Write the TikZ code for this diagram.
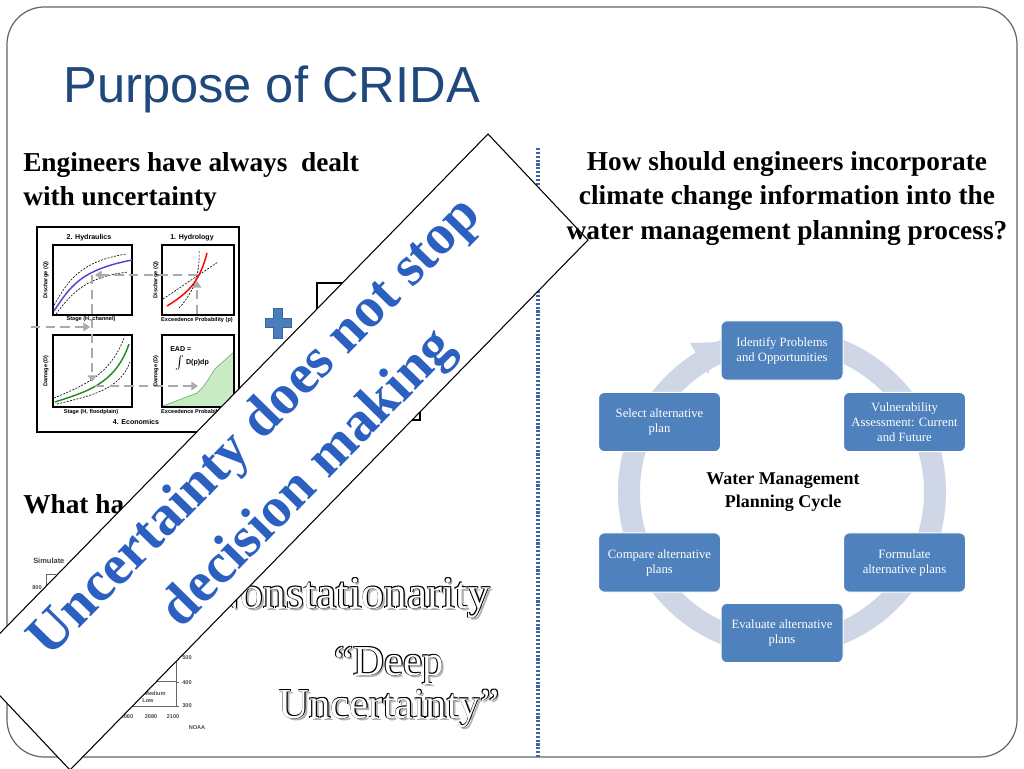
\documentclass[tikz,border=0pt]{standalone}
\usepackage{fontspec}
\setmainfont{Liberation Serif}
\newfontfamily\arialf{Liberation Sans}
\usetikzlibrary{arrows.meta}
\definecolor{titleblue}{RGB}{31,73,125}
\definecolor{boxblue}{RGB}{79,129,189}
\definecolor{ringc}{RGB}{207,214,230}
\definecolor{bannerblue}{RGB}{44,96,192}
\definecolor{divblue}{RGB}{64,100,160}
\definecolor{framegray}{RGB}{100,100,100}
\definecolor{plusblue}{RGB}{74,126,187}
\definecolor{arrowgray}{RGB}{170,170,170}
\definecolor{lgreen}{RGB}{200,234,196}
\definecolor{dgreen}{RGB}{30,140,40}
\definecolor{hblue}{RGB}{80,70,210}
\newcommand\outl[5]{%
  \node[olt,anchor=#2,font=#4,text=black!30,shift={(1.8pt,-1.8pt)}] (#1-s) at (#3) {#5};
  \foreach \oa in {45,135,225,315}{%
    \node[olt,anchor=#2,font=#4,text=black,shift={(\oa:0.85pt)}] (#1-\oa) at (#3) {#5};}
  \node[olt,anchor=#2,font=#4,text=white] (#1) at (#3) {#5};}
\begin{document}
\begin{tikzpicture}[x=0.75pt,y=-0.75pt,
  cyclebox/.style={fill=boxblue,draw=white,line width=0.75pt,rounded corners=4.5pt,minimum width=91.5pt,minimum height=44.5pt,text=white,align=center,inner sep=1pt,font=\fontsize{9.5}{11.25}\selectfont},
  headtext/.style={inner sep=0pt,font=\fontsize{20.5}{25}\selectfont\bfseries},
  tinyt/.style={inner sep=0pt,font=\arialf\bfseries\fontsize{4.2}{5}\selectfont},
  ptitle/.style={inner sep=0pt,font=\arialf\bfseries\fontsize{5.3}{6}\selectfont},
  panel/.style={draw=black,line width=0.8pt},
  garrow/.style={draw=arrowgray,line width=1.8pt,dash pattern=on 7pt off 4pt,-{Triangle[length=5pt,width=6.5pt]}},
  env/.style={draw=black,line width=0.45pt,dash pattern=on 1.5pt off 1pt},
  olt/.style={inner sep=0pt}]
\useasboundingbox (0,0) rectangle (1024,768);
\clip (0,0) rectangle (1024,768);
\fill[white] (0,0) rectangle (1024,768);
% frame
\draw[framegray,line width=0.9pt,rounded corners=28pt] (7,7) rectangle (1017,757);
% title
\node[anchor=base west,inner sep=0pt,text=titleblue,font=\arialf\fontsize{38}{45}\selectfont] (title) at (63,102) {Purpose of CRIDA};
% left headings
\node[headtext,anchor=base west] (h1a) at (23,171) {Engineers have always~ dealt};
\node[headtext,anchor=base west] (h1b) at (23,205) {with uncertainty};
\node[headtext,anchor=base west] (h3) at (23,513) {What ha};
% divider
\draw[divblue,line width=2.3pt,dash pattern=on 1.6pt off 1.3pt] (538,148) -- (538,757);
% hydrology chart
\draw[line width=1.1pt] (37,227) rectangle (239,432);
\fill[lgreen] (163,406) -- (197,393) .. controls (207,385) and (212,371) .. (217,367) -- (234,352) -- (234,406) -- cycle;
\draw[green!40!gray,line width=0.4pt] (163,406) -- (197,393) .. controls (207,385) and (212,371) .. (217,367) -- (234,352);
\draw[panel] (53,245) rectangle (132,315);
\draw[panel] (162,245) rectangle (234,315);
\draw[panel] (53,335) rectangle (132,407);
\draw[panel] (162,335) rectangle (234,407);
\draw[env] (54,305) .. controls (68,282) and (78,262) .. (126,254);
\draw[env] (56,314) .. controls (74,290) and (88,277) .. (128,272);
\draw[hblue,line width=1.1pt] (54,311) .. controls (70,287) and (80,270) .. (132,260);
\draw[env] (163,299) -- (218,262);
\draw[env] (179,308) .. controls (196,290) and (200,270) .. (199,250);
\draw[red,line width=1.1pt] (167,306) .. controls (190,292) and (200,280) .. (207,253);
\draw[env] (54,398) .. controls (85,385) and (110,375) .. (124,338);
\draw[env] (57,404) .. controls (90,396) and (120,390) .. (130,362);
\draw[dgreen,line width=1.1pt] (55,402) .. controls (85,392) and (115,385) .. (129,344);
\draw[garrow] (31,327) -- (90,327);
\draw[garrow] (197,314) -- (197,281);
\draw[garrow] (197,275) -- (95,275);
\draw[garrow] (92,275) -- (92,382);
\draw[garrow] (95,386) -- (198,386);
\node[ptitle] (t2) at (89,238) {2. Hydraulics};
\node[ptitle] (t1) at (192,238) {1. Hydrology};
\node[ptitle] (t4) at (136,422) {4. Economics};
\node[tinyt] (xl1) at (91,319) {Stage (H, channel)};
\node[tinyt] (xl2) at (197,320) {Exceedence Probability (p)};
\node[tinyt] (xl3) at (91,412) {Stage (H, floodplain)};
\node[tinyt] (xl4) at (197,412) {Exceedence Probability (p)};
\node[tinyt,rotate=90] (yl1) at (46,280) {Discharge (Q)};
\node[tinyt,rotate=90] (yl2) at (156,280) {Discharge (Q)};
\node[tinyt,rotate=90] (yl3) at (46,371) {Damage (D)};
\node[tinyt,rotate=90] (yl4) at (156,371) {Damage (D)};
\node[ptitle,anchor=west] (ead1) at (170,349) {EAD =};
\node[ptitle,anchor=west] (ead2) at (175,363) {$\int$ D(p)dp};
% plus sign
\draw[fill=plusblue,draw=plusblue!80!black,line width=0.5pt] (273.5,308) -- (282.5,308) -- (282.5,318.5) -- (291,318.5) -- (291,327.5) -- (282.5,327.5) -- (282.5,338) -- (273.5,338) -- (273.5,327.5) -- (265,327.5) -- (265,318.5) -- (273.5,318.5) -- cycle;
\draw[line width=1.1pt,fill=white] (317,283) rectangle (420,420);
% lower-left chart fragments
\node[inner sep=0pt,anchor=base west,font=\arialf\bfseries\fontsize{5.6}{6}\selectfont,text=black!75] (sim) at (33,563) {Simulate};
\draw[black!60,line width=0.5pt] (46,590) -- (46,574) -- (56,574);
\node[tinyt,text=black!70] (v800) at (37,588) {800};
\draw[black!60,line width=0.6pt] (120,681) rectangle (176,706);
\draw[black!60,line width=0.6pt] (176,650) -- (176,706);
\foreach \yy in {658,682,706} {\draw[black!60,line width=0.5pt] (176,\yy) -- (179,\yy);}
\node[tinyt,text=black!70] (v500) at (187,658) {500};
\node[tinyt,text=black!70] (v400) at (187,683) {400};
\node[tinyt,text=black!70] (v300) at (187,706) {300};
\node[tinyt,text=black!70] (lm) at (155,693) {Medium};
\node[tinyt,text=black!70] (ll) at (148,701) {Low};
\node[tinyt,text=black!70] (x60) at (127,717) {2060};
\node[tinyt,text=black!70] (x80) at (151,717) {2080};
\node[tinyt,text=black!70] (x00) at (173,717) {2100};
\node[tinyt,text=black!70] (noaa) at (197,728) {NOAA};
% outlined texts
\outl{nons}{base west}{208,608}{\fontsize{34}{40}\selectfont}{Nonstationarity}
\outl{deep}{base}{389,675}{\fontsize{32}{38}\selectfont}{“Deep}
\outl{unc}{base}{389,718}{\fontsize{32}{38}\selectfont}{Uncertainty”}
% cycle
\coordinate (cc) at (782,492);
\draw[ringc,line width=16.5pt] (cc) circle[radius=153];
\fill[ringc] (690,343) -- (719,342) -- (708,374) -- cycle;
\node[cyclebox] (idp) at (782,350.5) {Identify Problems\\and Opportunities};
\node[cyclebox] (vul) at (904.5,422) {Vulnerability\\Assessment: Current\\and Future};
\node[cyclebox] (frm) at (904.5,562.5) {Formulate\\alternative plans};
\node[cyclebox] (evl) at (782,633) {Evaluate alternative\\plans};
\node[cyclebox] (cmp) at (659.5,562.5) {Compare alternative\\plans};
\node[cyclebox] (sel) at (659.5,422) {Select alternative\\plan};
\node[inner sep=0pt,anchor=base,font=\fontsize{13.5}{17}\selectfont\bfseries] (wm1) at (783,484) {Water Management};
\node[inner sep=0pt,anchor=base,font=\fontsize{13.5}{17}\selectfont\bfseries] (wm2) at (783,507) {Planning Cycle};
% banner
\coordinate (bT) at (488,134);
\coordinate (bR) at (588,240);
\coordinate (bB) at (70,770);
\coordinate (bL) at (-30,664);
\draw[fill=white,line width=0.8pt] (bT) -- (bR) -- (bB) -- (bL) -- cycle;
\node[rotate=45.6,align=center,inner sep=0pt,text=bannerblue,font=\fontsize{42.5}{55}\selectfont\bfseries] (bannertext) at (283,454) {Uncertainty does not stop\\decision making};
% right headings (drawn over the banner)
\node[headtext,anchor=base] (h2a) at (787,170) {How should engineers incorporate};
\node[headtext,anchor=base] (h2b) at (787,204) {climate change information into the};
\node[headtext,anchor=base] (h2c) at (787,239) {water management planning process?};
\end{tikzpicture}
\end{document}
